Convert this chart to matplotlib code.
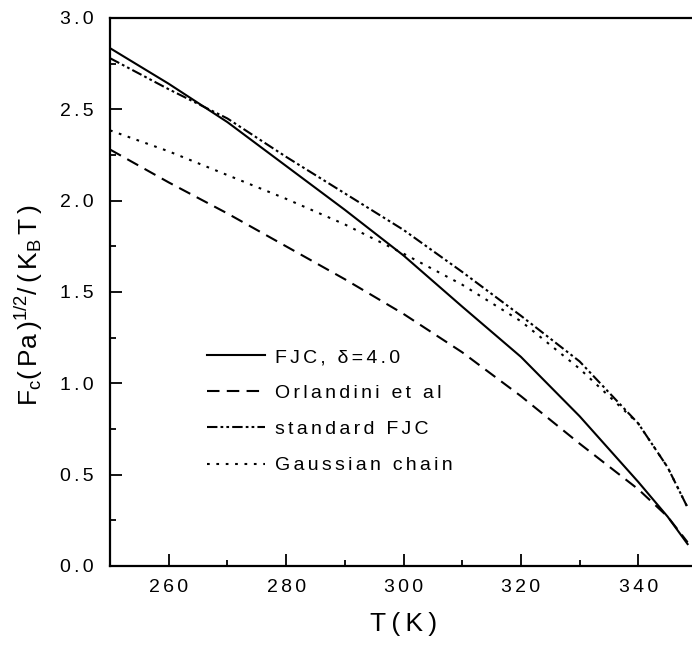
import matplotlib
matplotlib.use('Agg')
import matplotlib.pyplot as plt
from matplotlib.ticker import MultipleLocator, FuncFormatter

plt.rcParams['font.family'] = ['Liberation Sans', 'DejaVu Sans']
plt.rcParams['mathtext.default'] = 'regular'

# temperature grid (K)
T = [250, 260, 270, 280, 290, 300, 310, 320, 330, 340, 345, 348.4]

fjc_delta4 = [2.835, 2.64, 2.43, 2.19, 1.95, 1.70, 1.42, 1.145, 0.82, 0.46, 0.27, 0.12]
orlandini = [2.28, 2.10, 1.93, 1.75, 1.57, 1.38, 1.17, 0.93, 0.67, 0.42, 0.27, 0.13]
standard_fjc = [2.78, 2.61, 2.45, 2.24, 2.04, 1.84, 1.61, 1.37, 1.12, 0.78, 0.54, 0.32]
gaussian = [2.385, 2.27, 2.14, 2.01, 1.87, 1.71, 1.54, 1.34, 1.08, 0.78, 0.54, 0.32]

labels = ['FJC, \u03b4=4.0', 'Orlandini et al', 'standard FJC', 'Gaussian chain']

SP = '\u2006'  # the original plot has wide letter spacing


def spaced(s, sp=SP):
    return sp.join(s)


fig = plt.figure(figsize=(6.92, 6.56), dpi=100)
ax = fig.add_axes([110 / 692, (656 - 566) / 656, 587 / 692, 548 / 656])

ax.plot(T, fjc_delta4, color='black', lw=1.5, label=spaced(labels[0]))
ax.plot(T, orlandini, color='black', lw=1.5, dashes=(6, 3.5), label=spaced(labels[1]))
ax.plot(T, standard_fjc, color='black', lw=1.5,
        dashes=(5, 1.5, 1.3, 1.5, 1.3, 1.5), label=spaced(labels[2]))
ax.plot(T, gaussian, color='black', lw=1.5, dashes=(1.3, 3.2), label=spaced(labels[3]))

ax.set_xlim(250, 350)
ax.set_ylim(0, 3.0)
ax.set_xticks([260, 280, 300, 320, 340])
ax.xaxis.set_minor_locator(MultipleLocator(10))
ax.yaxis.set_major_locator(MultipleLocator(0.5))
ax.yaxis.set_minor_locator(MultipleLocator(0.25))
ax.xaxis.set_major_formatter(FuncFormatter(lambda v, p: spaced('%d' % v)))
ax.yaxis.set_major_formatter(FuncFormatter(lambda v, p: spaced('%.1f' % v)))

ax.tick_params(which='both', direction='in', width=1.3, labelsize=14)
ax.tick_params(which='major', length=8.5)
ax.tick_params(which='minor', length=4.5)
ax.tick_params(axis='y', which='both', pad=12)
ax.tick_params(axis='x', which='both', pad=9)

for side in ['left', 'bottom', 'top']:
    ax.spines[side].set_linewidth(1.6)
ax.spines['right'].set_visible(False)

ax.set_xlabel(spaced('T(K)', '\u2009'), fontsize=19, labelpad=12)
ax.set_ylabel('F$_c$(' + SP + 'Pa' + SP + ')$^{1/2}$/' + SP + '(' + SP
              + 'K$_B$' + SP + 'T' + SP + ')', fontsize=19)
ax.yaxis.set_label_coords(-0.11, 0.475)

ax.legend(loc='lower left', bbox_to_anchor=(0.152, 0.153), frameon=False,
          fontsize=14, handlelength=3.0, handletextpad=0.5, labelspacing=0.95,
          borderaxespad=0)

fig.savefig('out.png', dpi=100)
